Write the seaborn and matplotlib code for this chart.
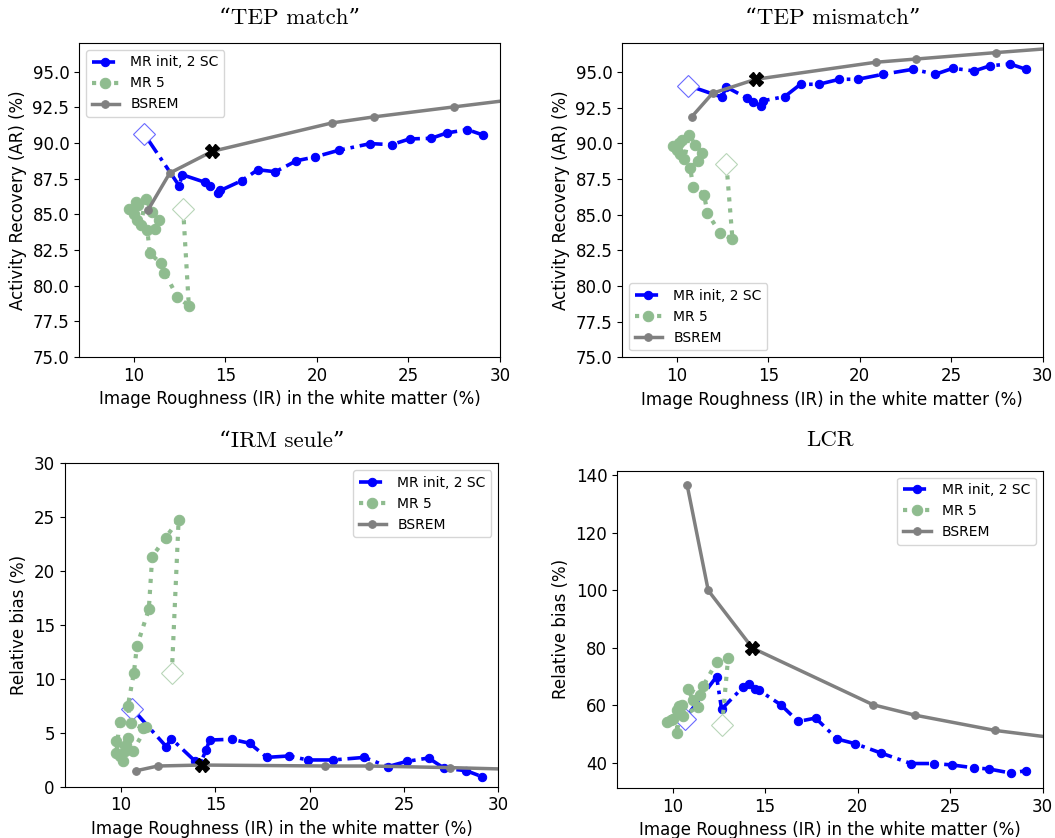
import numpy as np
import matplotlib
matplotlib.use('Agg')
import matplotlib.pyplot as plt
import seaborn as sns

# --- data ---
# "TEP match"
tm_mr_x = [10.55, 12.47, 12.64, 13.91, 14.15, 14.58, 14.73, 15.88, 16.77, 17.73, 18.88, 19.87,
           21.18, 22.91, 24.09, 25.06, 26.24, 27.10, 28.22, 29.06]
tm_mr_y = [90.65, 87.00, 87.77, 87.23, 86.95, 86.49, 86.67, 87.35, 88.12, 87.98, 88.75, 89.01,
           89.48, 89.95, 89.88, 90.28, 90.32, 90.70, 90.93, 90.56]
tm_mr5_x = [12.69, 13.00, 12.37, 11.67, 11.46, 10.87, 10.73, 11.13, 11.38, 11.00, 10.65, 10.37,
            10.15, 10.00, 9.73, 10.22, 10.09]
tm_mr5_y = [85.36, 78.58, 79.23, 80.92, 81.57, 82.28, 83.91, 83.96, 84.61, 85.13, 86.09, 84.26,
            84.61, 85.03, 85.36, 85.64, 85.83]
tm_bs_x = [10.78, 11.96, 14.28, 20.82, 23.09, 27.46, 33.5]
tm_bs_y = [85.32, 87.89, 89.41, 91.40, 91.82, 92.52, 93.47]

# "TEP mismatch"
tmm_mr_x = [10.62, 12.49, 12.67, 13.85, 14.18, 14.62, 14.73, 15.89, 16.76, 17.76, 18.89, 19.89,
            21.27, 22.91, 24.13, 25.09, 26.26, 27.13, 28.22, 29.08]
tmm_mr_y = [94.04, 93.22, 93.96, 93.15, 92.91, 92.61, 92.98, 93.26, 94.13, 94.13, 94.48, 94.48,
            94.83, 95.18, 94.83, 95.25, 95.06, 95.43, 95.55, 95.18]
tmm_mr5_x = [12.71, 13.04, 12.36, 11.67, 11.49, 10.89, 10.73, 11.13, 11.40, 11.00, 10.67, 10.40,
             10.18, 10.00, 9.77, 10.13, 10.30]
tmm_mr5_y = [88.52, 83.27, 83.73, 85.09, 86.40, 86.96, 88.24, 88.76, 89.34, 89.90, 90.58, 88.87,
             89.25, 89.50, 89.81, 90.04, 90.20]
tmm_bs_x = [10.82, 11.95, 14.31, 20.86, 23.09, 27.46, 33.5]
tmm_bs_y = [91.86, 93.50, 94.48, 95.67, 95.90, 96.35, 96.94]

# "IRM seule"
irm_mr_x = [10.59, 12.40, 12.66, 13.90, 14.20, 14.51, 14.69, 15.87, 16.81, 17.73, 18.89, 19.90,
            21.23, 22.90, 24.14, 25.15, 26.30, 27.14, 28.29, 29.14]
irm_mr_y = [7.24, 3.71, 4.46, 2.41, 2.17, 3.40, 4.33, 4.40, 4.03, 2.72, 2.85, 2.48,
            2.48, 2.72, 1.86, 2.35, 2.66, 1.70, 1.49, 0.93]
irm_mr5_x = [12.69, 13.05, 12.36, 11.65, 11.47, 10.84, 10.68, 10.36, 10.50, 11.16, 11.34, 10.63,
             10.36, 10.27, 10.19, 9.75, 9.92, 10.10, 9.75, 9.92]
irm_mr5_y = [10.52, 24.74, 23.10, 21.34, 16.46, 13.05, 10.58, 7.49, 5.94, 5.42, 5.50, 3.34,
             4.48, 3.87, 3.34, 4.27, 2.85, 2.38, 3.15, 6.03]
irm_bs_x = [10.80, 11.95, 14.28, 20.82, 23.13, 27.44, 33.5]
irm_bs_y = [1.48, 1.92, 2.01, 1.92, 1.92, 1.77, 1.49]

# LCR
lcr_mr_x = [10.66, 12.38, 12.65, 13.82, 14.14, 14.45, 14.68, 15.85, 16.79, 17.73, 18.90, 19.86,
            21.24, 22.88, 24.12, 25.11, 26.29, 27.10, 28.27, 29.10]
lcr_mr_y = [55.3, 70.0, 58.7, 66.4, 67.4, 65.7, 65.2, 60.2, 54.4, 55.6, 48.3, 46.7,
            43.5, 39.8, 39.8, 39.3, 38.3, 37.9, 36.5, 37.3]
lcr_mr5_x = [12.68, 13.00, 12.38, 11.66, 11.48, 10.84, 11.11, 11.38, 10.57, 10.36, 10.22, 10.39,
             10.04, 9.68, 10.22, 9.90, 10.50]
lcr_mr5_y = [53.2, 76.3, 75.0, 66.8, 63.7, 65.7, 61.7, 59.6, 56.2, 59.9, 50.4, 57.3,
             55.3, 54.1, 58.5, 55.0, 60.0]
lcr_bs_x = [10.79, 11.93, 14.32, 20.84, 23.10, 27.42, 33.5]
lcr_bs_y = [136.5, 99.9, 79.9, 60.2, 56.6, 51.3, 46.4]

titles = ['\u201cTEP match\u201d', '\u201cTEP mismatch\u201d', '\u201cIRM seule\u201d', 'LCR']
ylabels = ['Activity Recovery (AR) (%)', 'Activity Recovery (AR) (%)', 'Relative bias (%)', 'Relative bias (%)']
xlabel = 'Image Roughness (IR) in the white matter (%)'

panels = [
    (tm_mr_x, tm_mr_y, tm_mr5_x, tm_mr5_y, tm_bs_x, tm_bs_y),
    (tmm_mr_x, tmm_mr_y, tmm_mr5_x, tmm_mr5_y, tmm_bs_x, tmm_bs_y),
    (irm_mr_x, irm_mr_y, irm_mr5_x, irm_mr5_y, irm_bs_x, irm_bs_y),
    (lcr_mr_x, lcr_mr_y, lcr_mr5_x, lcr_mr5_y, lcr_bs_x, lcr_bs_y),
]
ylims = [(75, 97), (75, 97), (0, 30), (31.3, 141.5)]
legend_locs = ['upper left', 'lower left', 'upper right', 'upper right']
title_pads = [14, 14, 12, 18]

W, H = 1055, 838
# axes boxes in pixels: left, right, top, bottom
boxes = [(79, 500, 43, 357), (622, 1042.7, 43.3, 357.3),
         (64.5, 498.3, 463.3, 786.7), (617, 1042.7, 470.7, 788)]

fig = plt.figure(figsize=(W / 100, H / 100), dpi=100)
green = 'darkseagreen'

for i, (mx, my, gx, gy, bx, by) in enumerate(panels):
    l, r, t, b = boxes[i]
    ax = fig.add_axes([l / W, (H - b) / H, (r - l) / W, (b - t) / H])

    # first point of each MR curve is shown as an open diamond, not a dot
    sns.lineplot(x=mx, y=my, sort=False, estimator=None, ax=ax, color='blue', linestyle='-.',
                 linewidth=2.6, marker='o', markersize=6, markeredgecolor='blue',
                 markevery=list(range(1, len(mx))), label='MR init, 2 SC')
    ax.plot(mx[0], my[0], 'D', markersize=11, markerfacecolor='white', markeredgecolor='#6a6aff',
            markeredgewidth=0.8)
    sns.lineplot(x=gx, y=gy, sort=False, estimator=None, ax=ax, color=green, linestyle=':',
                 linewidth=3, marker='o', markersize=7.5, markeredgecolor=green,
                 markevery=list(range(1, len(gx))), label='MR 5')
    ax.plot(gx[0], gy[0], 'D', markersize=11, markerfacecolor='white', markeredgecolor='#b9d6b9',
            markeredgewidth=0.8)
    sns.lineplot(x=bx, y=by, sort=False, estimator=None, ax=ax, color='gray', linestyle='-',
                 linewidth=2.5, marker='o', markersize=5.5, markeredgecolor='gray', label='BSREM')
    ax.plot(bx[2], by[2], 'X', color='black', markersize=10)

    ax.set_xlim(7, 30)
    ax.set_ylim(*ylims[i])
    if i < 2:
        ax.set_yticks(np.arange(75, 95.1, 2.5))
        ax.set_yticklabels([f'{v:.1f}' for v in np.arange(75, 95.1, 2.5)])
    ax.set_xticks([10, 15, 20, 25, 30])
    ax.tick_params(labelsize=12)
    ax.set_xlabel(xlabel, fontsize=12)
    ax.set_ylabel(ylabels[i], fontsize=12)
    ax.set_title(titles[i], fontsize=16.5, pad=title_pads[i], family=['cmr10', 'DejaVu Serif'])
    ax.legend(loc=legend_locs[i], fontsize=10)

fig.savefig('out.png', dpi=100)
